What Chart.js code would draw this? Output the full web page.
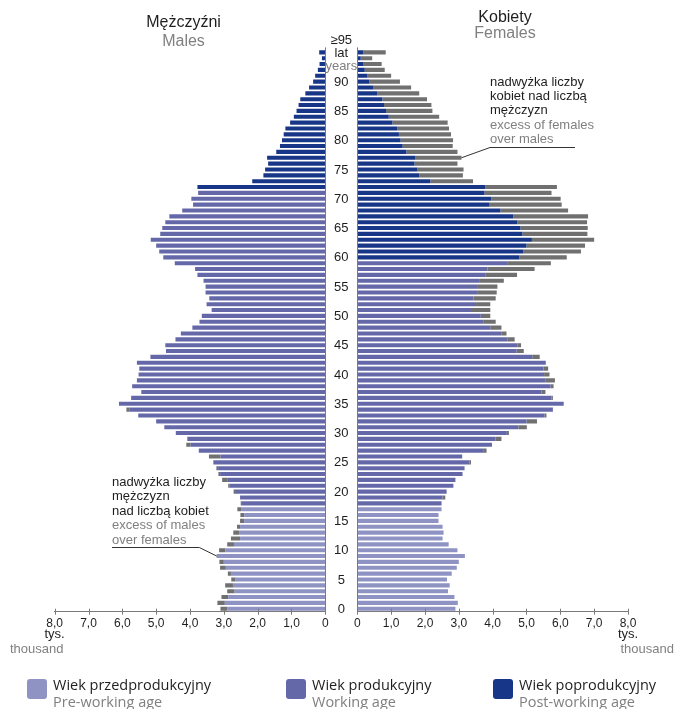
<!DOCTYPE html>
<html lang="pl">
<head>
<meta charset="UTF-8">
<title>Piramida wieku</title>
<script src="https://cdn.jsdelivr.net/npm/chart.js"></script>
<style>
  body { margin: 0; background: #fff; }
  #wrap { position: relative; width: 676px; height: 709px; }
  #wrap canvas { position: absolute; left: 0; top: 0; }
</style>
</head>
<body>
<div id="wrap">
  <canvas id="mezczyzni" width="676" height="709"></canvas>
  <canvas id="kobiety" width="676" height="709"></canvas>
</div>
<script>
// wiek 0 ... 95 (95 = 95 lat i więcej)
const wiek = [0,1,2,3,4,5,6,7,8,9,10,11,12,13,14,15,16,17,18,19,20,21,22,23,24,25,26,27,28,29,
  30,31,32,33,34,35,36,37,38,39,40,41,42,43,44,45,46,47,48,49,50,51,52,53,54,55,56,57,58,59,
  60,61,62,63,64,65,66,67,68,69,70,71,72,73,74,75,76,77,78,79,80,81,82,83,84,85,86,87,88,89,
  90,91,92,93,94,95];

// tys. osób, od wieku 0 w górę
const mezczyzni = [3.10,3.19,3.07,2.90,2.96,2.78,2.88,3.11,3.13,3.21, 3.14,2.90,2.79,2.72,2.61,2.52,2.51,2.60,2.50,2.52,
  2.71,2.87,3.05,3.16,3.22,3.31,3.44,3.74,4.11,4.08, 4.42,4.76,5.00,5.53,5.88,6.10,5.74,5.44,5.71,5.57,
  5.52,5.50,5.57,5.17,4.71,4.73,4.43,4.27,3.93,3.72, 3.65,3.36,3.51,3.43,3.54,3.54,3.60,3.78,3.85,4.45,
  4.79,4.91,5.00,5.16,4.88,4.82,4.73,4.61,4.23,3.91, 3.96,3.76,3.78,2.16,1.83,1.78,1.69,1.72,1.45,1.34,
  1.28,1.23,1.18,1.04,0.93,0.85,0.79,0.74,0.59,0.48, 0.36,0.30,0.22,0.17,0.10,0.18];

const kobiety = [2.90,2.97,2.87,2.68,2.73,2.65,2.79,2.94,3.00,3.18, 2.96,2.70,2.52,2.55,2.52,2.40,2.40,2.49,2.49,2.60,
  2.64,2.84,2.90,3.11,3.17,3.36,3.10,3.82,3.98,4.26, 4.48,5.01,5.31,5.59,5.78,6.10,5.78,5.56,5.80,5.84,
  5.68,5.64,5.57,5.39,4.92,4.84,4.65,4.41,4.26,4.09, 3.93,3.93,3.93,4.09,4.12,4.14,4.33,4.72,5.24,5.72,
  6.19,6.61,6.73,7.00,6.80,6.81,6.79,6.82,6.23,6.04, 6.01,5.74,5.90,3.42,3.12,3.14,2.96,3.08,2.96,2.82,
  2.83,2.77,2.71,2.67,2.42,2.22,2.19,2.06,1.83,1.59, 1.26,1.00,0.81,0.72,0.44,0.84];

// ostatni wiek w grupie przedprodukcyjnej / produkcyjnej (jak na rysunku)
const koniecPrzed = 17;
const koniecProdM = 71;
const koniecProdK = 59;

const etykietyWieku = [0,5,10,15,20,25,30,35,40,45,50,55,60,65,70,75,80,85,90];
const etykietaGora = ['≥95', 'lat', 'years'];
const wartosciOsi = [0,1,2,3,4,5,6,7,8];

const PRZED = '#8e93c4', PROD = '#6568a8', POPROD = '#183687', NADW = '#707070';
const CZARNY = '#1e1e1e', SZARY = '#808080', OS = '#7a7a7a';
const FONT = '"Liberation Sans", Arial, sans-serif';

function kolory(koniecProd) {
  return wiek.map(a => a <= koniecPrzed ? PRZED : (a <= koniecProd ? PROD : POPROD));
}

function txt(ctx, s, x, y, size, color, align, font) {
  ctx.font = size + 'px ' + (font || FONT);
  ctx.fillStyle = color;
  ctx.textAlign = align || 'center';
  ctx.textBaseline = 'middle';
  ctx.fillText(s, x, y);
}

const srodek = {
  id: 'srodek',
  beforeDatasetsDraw(chart) {
    const ctx = chart.ctx, y = chart.scales.y;
    ctx.save();
    etykietyWieku.forEach(a => txt(ctx, String(a), 341.3, y.getPixelForValue(a) + 0.5, 13, CZARNY));
    const top = y.getPixelForValue(95);
    txt(ctx, etykietaGora[0], 341.3, top - 12, 13, CZARNY);
    txt(ctx, etykietaGora[1], 341.3, top + 1.5, 13, CZARNY);
    txt(ctx, etykietaGora[2], 341.3, top + 14, 13, SZARY);
    ctx.restore();
  }
};

const osie = {
  id: 'osie',
  afterDraw(chart) {
    const {ctx, chartArea: a, scales: {x}} = chart;
    ctx.save();
    ctx.strokeStyle = OS;
    ctx.lineWidth = 1;
    ctx.beginPath();
    const x0 = Math.round(x.getPixelForValue(0)) + 0.5;
    ctx.moveTo(x0, a.top - 2);
    ctx.lineTo(x0, a.bottom);
    x.ticks.forEach(t => {
      const px = Math.round(x.getPixelForValue(t.value)) + 0.5;
      ctx.moveTo(px, a.bottom - 3);
      ctx.lineTo(px, a.bottom + 3);
    });
    ctx.stroke();
    ctx.restore();
  }
};

let wykresM;

const opisy = {
  id: 'opisy',
  afterDraw(chart) {
    const ctx = chart.ctx;
    ctx.save();
    txt(ctx, 'Mężczyźni', 183.5, 23, 16, CZARNY);
    txt(ctx, 'Males', 183.5, 41.5, 16, SZARY);
    txt(ctx, 'Kobiety', 505, 17.5, 16, CZARNY);
    txt(ctx, 'Females', 505, 34, 16, SZARY);

    txt(ctx, 'tys.', 54.5, 634.5, 13, CZARNY);
    txt(ctx, 'thousand', 63.5, 649.5, 13, SZARY, 'right');
    txt(ctx, 'tys.', 628, 634.5, 13, CZARNY);
    txt(ctx, 'thousand', 620.5, 649.5, 13, SZARY, 'left');

    // nadwyżka kobiet
    ['nadwyżka liczby', 'kobiet nad liczbą', 'mężczyzn'].forEach((s, i) => txt(ctx, s, 490, 82 + i * 14.4, 13, CZARNY, 'left'));
    ['excess of females', 'over males'].forEach((s, i) => txt(ctx, s, 490, 125.2 + i * 14.4, 13, SZARY, 'left'));
    const kx = chart.scales.x.getPixelForValue(kobiety[77]);
    const ky = chart.scales.y.getPixelForValue(77);
    ctx.strokeStyle = '#333';
    ctx.lineWidth = 1;
    ctx.beginPath();
    ctx.moveTo(575, 147.5);
    ctx.lineTo(490, 147.5);
    ctx.lineTo(kx, ky);
    ctx.stroke();

    // nadwyżka mężczyzn
    ['nadwyżka liczby', 'mężczyzn', 'nad liczbą kobiet'].forEach((s, i) => txt(ctx, s, 112, 482 + i * 14.5, 13, CZARNY, 'left'));
    ['excess of males', 'over females'].forEach((s, i) => txt(ctx, s, 112, 525.7 + i * 14.4, 13, SZARY, 'left'));
    const mx = wykresM.scales.x.getPixelForValue(mezczyzni[9]);
    const my = wykresM.scales.y.getPixelForValue(9);
    ctx.beginPath();
    ctx.moveTo(112, 547.5);
    ctx.lineTo(199.3, 547.5);
    ctx.lineTo(mx, my);
    ctx.stroke();

    // legenda
    const leg = [
      ['Wiek przedprodukcyjny', 'Pre-working age', PRZED, 27],
      ['Wiek produkcyjny', 'Working age', PROD, 286],
      ['Wiek poprodukcyjny', 'Post-working age', POPROD, 493]
    ];
    leg.forEach(([pl, en, c, x]) => {
      ctx.fillStyle = c;
      ctx.beginPath();
      ctx.roundRect(x, 679, 20, 20, 3);
      ctx.fill();
      txt(ctx, pl, x + 26, 686, 14.5, CZARNY, 'left', '"Open Sans", sans-serif');
      txt(ctx, en, x + 26, 703, 14.5, SZARY, 'left', '"Open Sans", sans-serif');
    });
    ctx.restore();
  }
};

function zestawy(own, other, koloryBazy) {
  return [
    { data: own.map((v, i) => Math.min(v, other[i])), backgroundColor: koloryBazy },
    { data: own.map((v, i) => Math.max(0, v - other[i])), backgroundColor: NADW }
  ];
}

function opcje(odwroc, lewy, prawy) {
  return {
    indexAxis: 'y',
    responsive: false,
    animation: false,
    events: [],
    layout: { padding: { left: lewy, right: prawy, top: 49.4, bottom: 67.3 } },
    plugins: { legend: { display: false }, tooltip: { enabled: false } },
    datasets: { bar: { barPercentage: 0.7, categoryPercentage: 1, borderWidth: 0 } },
    scales: {
      x: {
        stacked: true, min: 0, max: 8, reverse: odwroc,
        afterBuildTicks: s => { s.ticks = wartosciOsi.map(v => ({ value: v })); },
        ticks: {
          font: { family: FONT, size: 12 }, color: CZARNY, padding: 5, maxRotation: 0, autoSkip: false,
          callback: v => v === 0 ? '0' : v.toFixed(1).replace('.', ',')
        },
        grid: { display: false, drawTicks: false },
        border: { display: true, color: OS, width: 1 },
        afterFit: s => { s.height = 30; }
      },
      y: { stacked: true, reverse: true, display: false }
    }
  };
}

wykresM = new Chart(document.getElementById('mezczyzni'), {
  type: 'bar',
  data: { labels: wiek, datasets: zestawy(mezczyzni, kobiety, kolory(koniecProdM)) },
  options: opcje(true, 54.7, 350.7),
  plugins: [srodek, osie]
});

new Chart(document.getElementById('kobiety'), {
  type: 'bar',
  data: { labels: wiek, datasets: zestawy(kobiety, mezczyzni, kolory(koniecProdK)) },
  options: opcje(false, 357.3, 48),
  plugins: [osie, opisy]
});
</script>
</body>
</html>
